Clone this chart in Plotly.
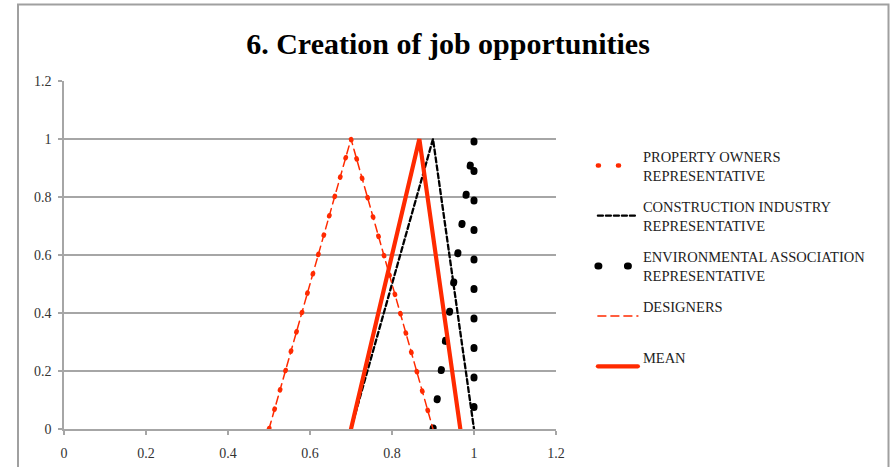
import plotly.graph_objects as go

# Triangular membership functions (support low, peak, support high)
y_tri = [0, 1, 0]
property_owners = [0.5, 0.7, 0.9]
construction = [0.7, 0.9, 1.0]
environmental = [0.9, 1.0, 1.0]
designers = [0.5, 0.7, 0.9]
mean = [0.7, 0.8667, 0.9667]

names = [
    "PROPERTY OWNERS<br>REPRESENTATIVE",
    "CONSTRUCTION INDUSTRY<br>REPRESENTATIVE",
    "ENVIRONMENTAL ASSOCIATION<br>REPRESENTATIVE",
    "DESIGNERS<br> ",
    "MEAN<br> ",
]

RED = "#FF2A00"
GRID = "#A6A6A6"
SERIF = "Liberation Serif, Times New Roman, serif"
TICKS = [0, 0.2, 0.4, 0.6, 0.8, 1.0, 1.2]
TICK_TEXT = ["0", "0.2", "0.4", "0.6", "0.8", "1", "1.2"]

series = [
    (property_owners, dict(color=RED, width=4.6, dash="1px,19.1px")),
    (construction, dict(color="black", width=2.3, dash="5px,3px")),
    (environmental, dict(color="black", width=7, dash="1px,28.5px")),
    (designers, dict(color=RED, width=1.5, dash="8px,5px")),
    (mean, dict(color=RED, width=4.2)),
]

fig = go.Figure()
for i, ((xs, line), name) in enumerate(zip(series, names)):
    fig.add_trace(go.Scatter(
        x=xs, y=y_tri, mode="lines", name=name, line=line,
        legendgroup=f"g{i}", cliponaxis=False,
    ))

axis_style = dict(
    range=[0, 1.2], zeroline=False, automargin=False,
    showline=True, linecolor=GRID, linewidth=1.5,
    ticks="outside", ticklen=4, tickcolor=GRID, tickwidth=1.5,
    tickfont=dict(family=SERIF, size=14, color="#333333"),
    tickvals=TICKS, ticktext=TICK_TEXT,
)

fig.update_layout(
    width=895, height=467,
    margin=dict(l=64, r=339, t=81, b=38, autoexpand=False),
    paper_bgcolor="white", plot_bgcolor="white",
    title=dict(
        text="<b>6. Creation of job opportunities</b>",
        x=448 / 895, xanchor="center", y=1 - 43 / 467, yanchor="middle",
        font=dict(family=SERIF, size=30, color="black"),
    ),
    showlegend=True,
    legend=dict(
        x=1.075, xanchor="left", y=0.83, yanchor="top",
        font=dict(family=SERIF, size=14.5, color="#222222"),
        itemwidth=40, tracegroupgap=9.5, bgcolor="rgba(0,0,0,0)",
    ),
    xaxis=dict(axis_style, showgrid=False, ticklabelstandoff=6),
    yaxis=dict(axis_style, showgrid=True, gridcolor=GRID, gridwidth=1.5,
               ticklabelstandoff=4),
    shapes=[dict(
        type="rect", xref="paper", yref="paper",
        x0=(18 - 64) / 492, x1=(888.5 - 64) / 492,
        y0=(429 - 490) / 348, y1=(429 - 4.5) / 348,
        line=dict(color="#A0A0A0", width=2), layer="below",
    )],
)

# Round line caps so the dotted series render as round dots
round_caps = """
var gd = document.getElementById('{plot_id}');
function roundCaps(){
  gd.querySelectorAll('path.js-line').forEach(function(p){
    p.style.strokeLinecap = 'round';
  });
}
roundCaps();
gd.on('plotly_afterplot', roundCaps);
"""

fig.write_html("out.html", post_script=round_caps)
